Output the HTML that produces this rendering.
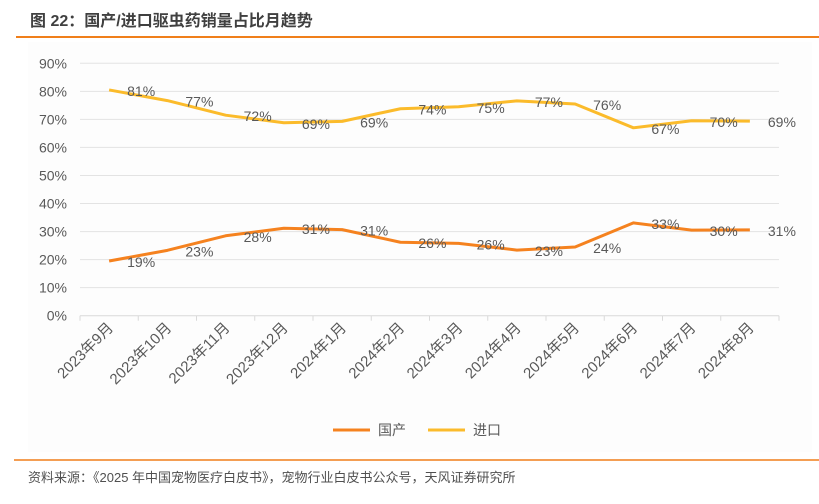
<!DOCTYPE html>
<html><head><meta charset="utf-8"><style>
body{margin:0;background:#fff;width:819px;height:499px;overflow:hidden;font-family:"Liberation Sans","Noto Sans CJK SC",sans-serif}
</style></head><body>
<svg width="819" height="499" xmlns="http://www.w3.org/2000/svg" font-family="Liberation Sans, Noto Sans CJK SC, sans-serif">
<text x="30" y="26" font-size="16" font-weight="bold" fill="#404040">图 22：国产/进口驱虫药销量占比月趋势</text>
<line x1="16" y1="37" x2="819" y2="37" stroke="#f07f1a" stroke-width="2"/>
<rect x="28" y="42" width="784" height="410" fill="#fdfdfd"/>
<g id="grid"></g><g id="axes"></g><g id="series"></g>
<g>
<line x1="333" y1="430" x2="370" y2="430" stroke="#f5821f" stroke-width="3"/>
<text x="378" y="435" font-size="14" fill="#595959">国产</text>
<line x1="428" y1="430" x2="465" y2="430" stroke="#fbbb2b" stroke-width="3"/>
<text x="473" y="435" font-size="14" fill="#595959">进口</text>
</g>
<line x1="14" y1="460" x2="819" y2="460" stroke="#f07f1a" stroke-width="1.5"/>
<text x="28" y="482" font-size="13" fill="#505050">资料来源：《2025 年中国宠物医疗白皮书》，宠物行业白皮书公众号，天风证券研究所</text>
</svg>
<script>
const categories=["2023年9月","2023年10月","2023年11月","2023年12月","2024年1月","2024年2月","2024年3月","2024年4月","2024年5月","2024年6月","2024年7月","2024年8月"];
const domestic=[19.5,23.3,28.5,31.2,30.7,26.2,25.8,23.4,24.5,33.1,30.5,30.6];
const imported=[80.5,76.7,71.5,68.8,69.3,73.8,74.5,76.6,75.5,67.0,69.5,69.4];
const domesticLabels=["19%","23%","28%","31%","31%","26%","26%","23%","24%","33%","30%","31%"];
const importedLabels=["81%","77%","72%","69%","69%","74%","75%","77%","76%","67%","70%","69%"];
const yTicks=[0,10,20,30,40,50,60,70,80,90];
const NS="http://www.w3.org/2000/svg";
const L=80,R=779,T=63.3,B=315.7;
const step=(R-L)/categories.length;
const xs=i=>L+step*(i+0.5);
const ys=v=>B-(v/90)*(B-T);
function mk(tag,attrs,parent){const e=document.createElementNS(NS,tag);for(const k in attrs)e.setAttribute(k,attrs[k]);parent.appendChild(e);return e;}
const grid=document.getElementById('grid'),axes=document.getElementById('axes'),ser=document.getElementById('series');
yTicks.forEach(v=>{
 const y=ys(v);
 const g=mk('line',{x1:L,x2:R,y1:y,y2:y,stroke:v===0?'#d9d9d9':'#e3e3e3','stroke-width':1},grid);
 
 
 const t=mk('text',{x:67,y:y+5,'font-size':14,fill:'#595959','text-anchor':'end'},axes);
 t.textContent=v+'%';
 
 
});
for(let i=0;i<=categories.length;i++){
 const x=L+step*i;
 const tk=mk('line',{x1:x,x2:x,y1:B,y2:B+5,stroke:'#d9d9d9'},axes);
 
 
}
categories.forEach((c,i)=>{
 const x=xs(i)+5,y=B+13;
 const t=mk('text',{x:x,y:y,'font-size':15,fill:'#595959','text-anchor':'end',transform:`rotate(-45 ${x} ${y})`},axes);
 t.textContent=c;
 
 
});
function drawSeries(vals,labels,color,name,dy){
 const p=mk('polyline',{points:vals.map((v,i)=>xs(i)+','+ys(v)).join(' '),fill:'none',stroke:color,'stroke-width':3,'stroke-linejoin':'round'},ser);
 
 
 vals.forEach((v,i)=>{
  const t=mk('text',{x:xs(i)+18,y:ys(v)+dy,'font-size':14,fill:'#595959'},ser);
  t.textContent=labels[i];
  
  
 });
}
drawSeries(domestic,domesticLabels,'#f5821f','domestic',6);
drawSeries(imported,importedLabels,'#fbbb2b','imported',6);
</script>
</body></html>
